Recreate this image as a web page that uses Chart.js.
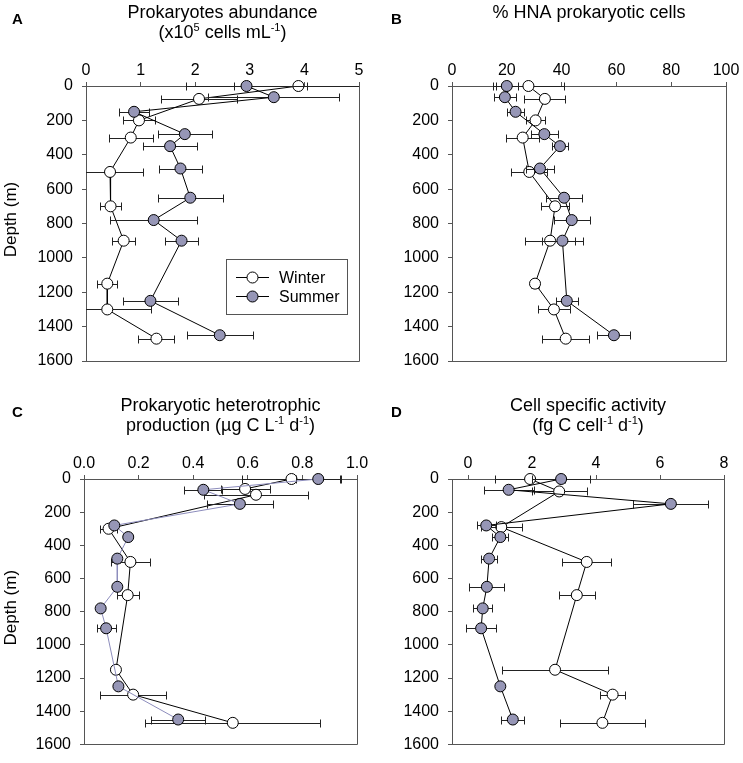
<!DOCTYPE html>
<html><head><meta charset="utf-8">
<script src="https://cdn.jsdelivr.net/npm/chart.js@4.4.0/dist/chart.umd.min.js"></script>
<style>
html,body{margin:0;padding:0;background:#fff;}
#wrap{position:relative;width:743px;height:763px;overflow:hidden;}
canvas{position:absolute;left:0;top:0;}
</style>
</head><body><div id="wrap">
<canvas id="cA" width="743" height="763"></canvas>
<canvas id="cB" width="743" height="763"></canvas>
<canvas id="cC" width="743" height="763"></canvas>
<canvas id="cD" width="743" height="763"></canvas>
</div>
<script>
// ---------- DATA ----------
const depthTicks = [0, 200, 400, 600, 800, 1000, 1200, 1400, 1600];
const depthSummer = [0, 65, 150, 280, 350, 480, 650, 780, 900, 1250, 1450];
const depthWinter = [0, 75, 200, 300, 500, 700, 900, 1150, 1300, 1470];
const depthWinterC = [0, 60, 95, 300, 500, 700, 1150, 1300, 1470];
const depthWinterD = [0, 75, 290, 500, 700, 1150, 1300, 1470];

// A: Prokaryotes abundance (x10^5 cells mL-1)
const ticksA = [0, 1, 2, 3, 4, 5];
const winterA = [3.89, 2.07, 0.97, 0.82, 0.44, 0.45, 0.69, 0.39, 0.39, 1.29];
const winterErrA = [1.18, 0.70, 0.30, 0.40, 0.60, 0.20, 0.21, 0.18, 0.80, 0.33];
const summerA = [2.94, 3.44, 0.88, 1.81, 1.54, 1.73, 1.91, 1.24, 1.75, 1.18, 2.45];
const summerErrA = [1.10, 1.20, 0.28, 0.50, 0.49, 0.40, 0.60, 0.80, 0.30, 0.50, 0.60];

// B: % HNA prokaryotic cells
const ticksB = [0, 20, 40, 60, 80, 100];
const winterB = [27.9, 33.9, 30.5, 25.8, 28.2, 37.6, 35.8, 30.3, 37.2, 41.5];
const winterErrB = [13, 7.5, 3.4, 6, 6.5, 5, 9, 1.5, 5.7, 8.6];
const summerB = [20.0, 19.3, 23.2, 33.7, 39.4, 32.1, 40.9, 43.7, 40.3, 41.9, 59.1];
const summerErrB = [4, 4, 3, 5, 3, 5, 6.7, 6.5, 7.6, 4, 6];

// C: Prokaryotic heterotrophic production
const ticksC = [0, 0.2, 0.4, 0.6, 0.8, 1.0];
const winterC = [0.76, 0.59, 0.63, 0.09, 0.17, 0.16, 0.117, 0.18, 0.545];
const winterErrC = [0.18, 0.09, 0.19, 0.03, 0.07, 0.04, 0.01, 0.12, 0.32];
const summerC = [0.858, 0.437, 0.571, 0.111, 0.162, 0.122, 0.122, 0.061, 0.081, 0.126, 0.345];
const summerErrC = [0.08, 0.07, 0.12, 0.01, 0.01, 0.01, 0.01, 0.01, 0.035, 0.01, 0.10];

// D: Cell specific activity
const ticksD = [0, 2, 4, 6, 8];
const winterD = [1.94, 2.85, 1.04, 3.71, 3.40, 2.72, 4.52, 4.20];
const winterErrD = [1.10, 0.86, 0.64, 0.77, 0.56, 1.65, 0.40, 1.32];
const summerD = [2.91, 1.27, 6.34, 0.57, 1.01, 0.66, 0.59, 0.46, 0.41, 1.01, 1.40];
const summerErrD = [0.90, 0.78, 1.17, 0.30, 0.25, 0.25, 0.55, 0.30, 0.48, 0.05, 0.36];

// ---------- STYLE / HELPERS ----------
const FONT = '"Liberation Sans", Arial, Helvetica, sans-serif';
const SUMMER_FILL = '#9696b6';
const AXIS_COL = '#555';

function pts(xs, ys) { return xs.map((v, i) => ({ x: v, y: ys[i] })); }

const errorBarPlugin = {
  id: 'errBars',
  beforeDatasetDraw(chart, args) {
    const ds = chart.data.datasets[args.index];
    if (!ds.xErr) return;
    const xs = chart.scales.x, ys = chart.scales.y, ca = chart.chartArea, ctx = chart.ctx;
    ctx.save();
    ctx.beginPath();
    ctx.rect(ca.left, ca.top - 10, ca.right - ca.left, ca.bottom - ca.top + 20);
    ctx.clip();
    ctx.strokeStyle = '#222';
    ctx.lineWidth = 1;
    ds.data.forEach((p, i) => {
      const e = ds.xErr[i];
      if (!e) return;
      const y = Math.round(ys.getPixelForValue(p.y)) + 0.5;
      const x1 = Math.round(xs.getPixelForValue(p.x - e)) + 0.5;
      const x2 = Math.round(xs.getPixelForValue(p.x + e)) + 0.5;
      ctx.beginPath();
      ctx.moveTo(x1, y); ctx.lineTo(x2, y);
      ctx.moveTo(x1, y - 4); ctx.lineTo(x1, y + 4);
      ctx.moveTo(x2, y - 4); ctx.lineTo(x2, y + 4);
      ctx.stroke();
    });
    ctx.restore();
  }
};

function drawRich(ctx, segs, cx, baseline, size) {
  let w = 0;
  const m = segs.map(s => {
    const sz = s.sup ? Math.round(size * 0.62) : size;
    ctx.font = sz + 'px ' + FONT;
    const sw = ctx.measureText(s.t).width;
    w += sw;
    return { t: s.t, sup: s.sup, sz, sw };
  });
  let x = cx - w / 2;
  ctx.textAlign = 'left';
  ctx.textBaseline = 'alphabetic';
  m.forEach(s => {
    ctx.font = s.sz + 'px ' + FONT;
    ctx.fillText(s.t, x, s.sup ? baseline - size * 0.4 : baseline);
    x += s.sw;
  });
}

const overlayPlugin = {
  id: 'overlay',
  afterDraw(chart, args, o) {
    const ctx = chart.ctx, ca = chart.chartArea;
    ctx.save();
    // box right and bottom edges
    ctx.strokeStyle = AXIS_COL;
    ctx.lineWidth = 1;
    ctx.beginPath();
    const r = Math.round(ca.right) + 0.5, b = Math.round(ca.bottom) + 0.5;
    ctx.moveTo(r, Math.round(ca.top)); ctx.lineTo(r, b);
    ctx.lineTo(Math.round(ca.left), b);
    ctx.stroke();
    ctx.fillStyle = '#000';
    // panel letter
    ctx.font = 'bold 15px ' + FONT;
    ctx.textAlign = 'left';
    ctx.textBaseline = 'alphabetic';
    ctx.fillText(o.letter, o.letterX, o.letterY);
    // title
    const cx = (ca.left + ca.right) / 2;
    o.title.forEach((line, i) => drawRich(ctx, line, cx, o.titleY[i], 18));
    // y title
    if (o.yTitle) {
      ctx.save();
      ctx.translate(o.yTitleX, (ca.top + ca.bottom) / 2 - 4);
      ctx.rotate(-Math.PI / 2);
      ctx.font = '17px ' + FONT;
      ctx.textAlign = 'center';
      ctx.textBaseline = 'middle';
      ctx.fillText(o.yTitle, 0, 0);
      ctx.restore();
    }
    // legend
    if (o.legend) {
      const L = o.legend;
      ctx.strokeStyle = AXIS_COL;
      ctx.strokeRect(L.x + 0.5, L.y + 0.5, L.w, L.h);
      L.items.forEach((it, i) => {
        const y = L.y + 18.5 + i * 19;
        ctx.strokeStyle = '#000';
        ctx.beginPath();
        ctx.moveTo(L.x + 10, y); ctx.lineTo(L.x + 43, y);
        ctx.stroke();
        ctx.beginPath();
        ctx.arc(L.x + 26.5, y, 5.5, 0, Math.PI * 2);
        ctx.fillStyle = it.fill;
        ctx.fill();
        ctx.stroke();
        ctx.fillStyle = '#000';
        ctx.font = '16px ' + FONT;
        ctx.textAlign = 'left';
        ctx.textBaseline = 'middle';
        ctx.fillText(it.label, L.x + 53, y + 1);
      });
    }
    ctx.restore();
  }
};

function makePanel(id, p) {
  new Chart(document.getElementById(id), {
    type: 'scatter',
    data: {
      datasets: [
        {
          label: 'Summer', data: pts(p.summer, depthSummer), xErr: p.summerErr,
          showLine: true, borderColor: p.summerLine, borderWidth: 1,
          pointRadius: 5.5, pointHoverRadius: 5.5, pointBackgroundColor: SUMMER_FILL,
          pointBorderColor: '#000', pointBorderWidth: 1, order: 0, clip: false
        },
        {
          label: 'Winter', data: pts(p.winter, p.winterDepth), xErr: p.winterErr,
          showLine: true, borderColor: '#000', borderWidth: 1,
          pointRadius: 5.5, pointHoverRadius: 5.5, pointBackgroundColor: '#fff',
          pointBorderColor: '#000', pointBorderWidth: 1, order: 1, clip: false
        }
      ]
    },
    options: {
      responsive: false,
      animation: false,
      events: [],
      layout: { padding: { left: p.area.l - 60, top: p.area.t - 30, right: 743 - p.area.r, bottom: 763 - p.area.b } },
      plugins: {
        legend: { display: false },
        tooltip: { enabled: false },
        overlay: p.overlay
      },
      scales: {
        x: {
          type: 'linear', position: 'top', min: p.xmin, max: p.xmax,
          afterBuildTicks: s => { s.ticks = p.xticks.map(v => ({ value: v })); },
          afterFit: s => { s.height = 30; },
          grid: { display: true, drawOnChartArea: false, drawTicks: true, tickLength: 4, color: AXIS_COL },
          border: { display: true, color: AXIS_COL },
          ticks: { font: { family: FONT, size: 16 }, color: '#000', padding: 2, maxRotation: 0, autoSkip: false,
                   callback: v => p.fmt(v) }
        },
        y: {
          type: 'linear', reverse: true, min: 0, max: 1600,
          afterBuildTicks: s => { s.ticks = depthTicks.map(v => ({ value: v })); },
          afterFit: s => { s.width = 60; },
          grid: { display: true, drawOnChartArea: false, drawTicks: true, tickLength: 4, color: AXIS_COL },
          border: { display: true, color: AXIS_COL },
          ticks: { font: { family: FONT, size: 16 }, color: '#000', padding: 9, autoSkip: false,
                   callback: v => String(v) }
        }
      }
    },
    plugins: [errorBarPlugin, overlayPlugin]
  });
}

makePanel('cA', {
  winter: winterA, winterErr: winterErrA, winterDepth: depthWinter,
  summer: summerA, summerErr: summerErrA, summerLine: '#000',
  xmin: 0, xmax: 5, xticks: ticksA, fmt: v => String(v),
  area: { l: 86, r: 359, t: 86, b: 361 },
  overlay: {
    letter: 'A', letterX: 12, letterY: 24,
    title: [[{ t: 'Prokaryotes abundance' }],
            [{ t: '(x10' }, { t: '5', sup: true }, { t: ' cells mL' }, { t: '-1', sup: true }, { t: ')' }]],
    titleY: [18, 38],
    yTitle: 'Depth (m)', yTitleX: 11,
    legend: { x: 226, y: 259, w: 121, h: 55,
              items: [{ label: 'Winter', fill: '#fff' }, { label: 'Summer', fill: SUMMER_FILL }] }
  }
});

makePanel('cB', {
  winter: winterB, winterErr: winterErrB, winterDepth: depthWinter,
  summer: summerB, summerErr: summerErrB, summerLine: '#000',
  xmin: 0, xmax: 100, xticks: ticksB, fmt: v => String(v),
  area: { l: 452, r: 726, t: 86, b: 361 },
  overlay: {
    letter: 'B', letterX: 391, letterY: 24,
    title: [[{ t: '% HNA prokaryotic cells' }]],
    titleY: [18]
  }
});

makePanel('cC', {
  winter: winterC, winterErr: winterErrC, winterDepth: depthWinterC,
  summer: summerC, summerErr: summerErrC, summerLine: '#8c8cbc',
  xmin: 0, xmax: 1, xticks: ticksC, fmt: v => v.toFixed(1),
  area: { l: 84, r: 357, t: 479, b: 753 },
  overlay: {
    letter: 'C', letterX: 12, letterY: 417,
    title: [[{ t: 'Prokaryotic heterotrophic' }],
            [{ t: 'production (µg C L' }, { t: '-1', sup: true }, { t: ' d' }, { t: '-1', sup: true }, { t: ')' }]],
    titleY: [411, 431],
    yTitle: 'Depth (m)', yTitleX: 11
  }
});

makePanel('cD', {
  winter: winterD, winterErr: winterErrD, winterDepth: depthWinterD,
  summer: summerD, summerErr: summerErrD, summerLine: '#000',
  xmin: -0.5, xmax: 8, xticks: ticksD, fmt: v => String(v),
  area: { l: 452, r: 724, t: 479, b: 753 },
  overlay: {
    letter: 'D', letterX: 391, letterY: 417,
    title: [[{ t: 'Cell specific activity' }],
            [{ t: '(fg C cell' }, { t: '-1', sup: true }, { t: ' d' }, { t: '-1', sup: true }, { t: ')' }]],
    titleY: [411, 431]
  }
});
</script>
</body></html>
